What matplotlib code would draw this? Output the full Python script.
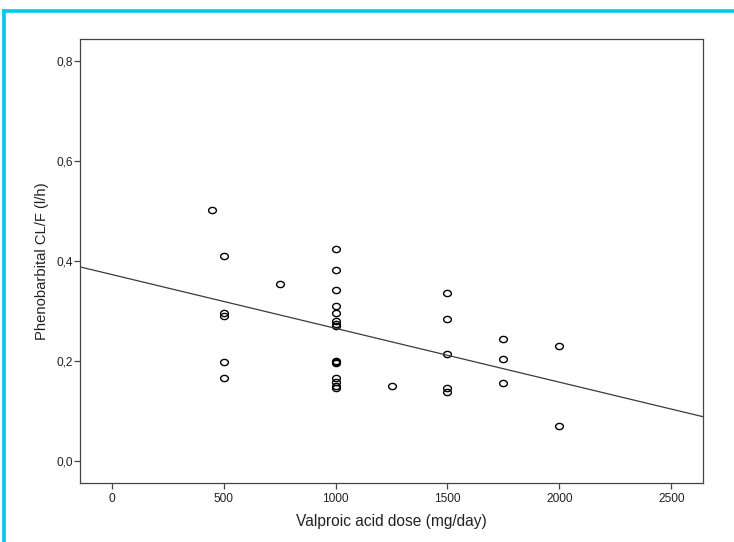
import numpy as np
import matplotlib
matplotlib.use("Agg")
import matplotlib.pyplot as plt
from matplotlib.path import Path
from matplotlib.lines import Line2D
from matplotlib.ticker import FuncFormatter

plt.rcParams['font.family'] = ['Liberation Sans', 'DejaVu Sans']

# valproic acid dose (mg/day) and phenobarbital CL/F (l/h)
dose = [450,
        500, 500, 500, 500, 500,
        750,
        1000, 1000, 1000, 1000, 1000, 1000, 1000, 1000,
        1000, 1000, 1000, 1000, 1000, 1000, 1000,
        1250,
        1500, 1500, 1500, 1500, 1500,
        1750, 1750, 1750,
        2000, 2000]
clf = [0.502,
       0.411, 0.296, 0.290, 0.197, 0.165,
       0.354,
       0.424, 0.382, 0.342, 0.309, 0.295, 0.279, 0.274, 0.270,
       0.199, 0.197, 0.195, 0.165, 0.157, 0.150, 0.145,
       0.150,
       0.335, 0.284, 0.214, 0.145, 0.138,
       0.243, 0.203, 0.155,
       0.230, 0.070]

# regression line as drawn in the reference
fit_intercept = 0.373
fit_slope = -1.077e-4

x_ticks = [0, 500, 1000, 1500, 2000, 2500]
y_ticks = [0.0, 0.2, 0.4, 0.6, 0.8]

fig = plt.figure(figsize=(7.34, 5.42), dpi=100)
ax = fig.add_axes([0.1094, 0.1089, 0.848, 0.8191])

# slightly wide open circle, like the SPSS marker
t = np.linspace(0, 2 * np.pi, 40)
ell = Path(np.column_stack([np.cos(t), 0.8 * np.sin(t)]), closed=True)

ax.plot(dose, clf, linestyle='none', marker=ell, markersize=5.6,
        markerfacecolor='none', markeredgecolor='black', markeredgewidth=1.0)
ax.axline((0, fit_intercept), slope=fit_slope, color='#3a3a3a', lw=0.9)

ax.set_xlim(-140, 2640)
ax.set_ylim(-0.044, 0.844)
ax.set_xticks(x_ticks)
ax.set_yticks(y_ticks)
ax.yaxis.set_major_formatter(FuncFormatter(lambda v, p: f"{v:.1f}".replace('.', ',')))

for s in ax.spines.values():
    s.set_color('#444444')
    s.set_linewidth(0.9)
ax.tick_params(direction='out', length=4.5, width=0.9, color='#444444',
               labelsize=8.6, labelcolor='#222222')
ax.tick_params(axis='y', pad=1)
ax.tick_params(axis='x', pad=3)

ax.set_xlabel('Valproic acid dose (mg/day)', fontsize=11.2, color='#222222', labelpad=6)
ax.set_ylabel('Phenobarbital CL/F (l/h)', fontsize=10.6, color='#222222', labelpad=5)

# cyan frame around the figure (top and left edges visible)
cyan = '#00c8f0'
fig.add_artist(Line2D([0.0061, 0.0061], [0, 0.98], transform=fig.transFigure,
                      color=cyan, lw=2.6, solid_capstyle='projecting'))
fig.add_artist(Line2D([0.0061, 1.0], [0.98, 0.98], transform=fig.transFigure,
                      color=cyan, lw=2.6, solid_capstyle='projecting'))

fig.savefig('out.png', dpi=100)
